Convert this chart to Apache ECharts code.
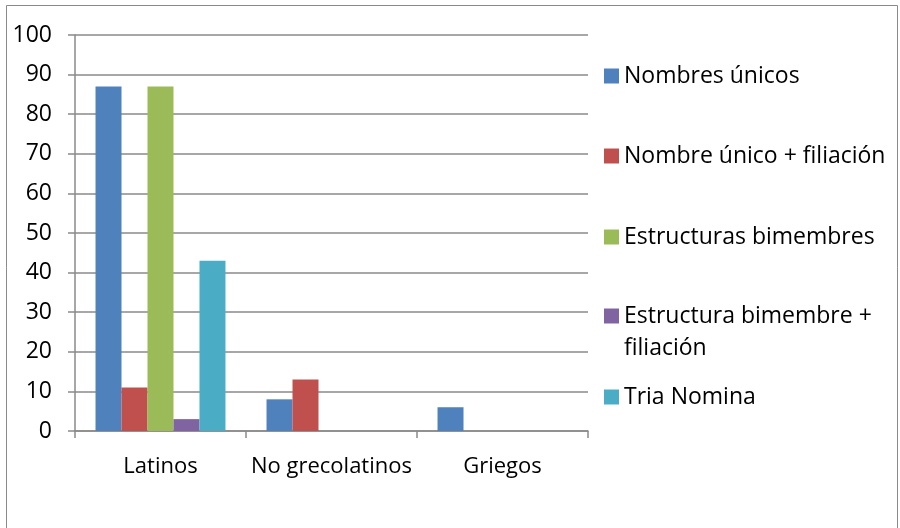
<!DOCTYPE html>
<html>
<head>
<meta charset="utf-8">
<script src="https://cdn.jsdelivr.net/npm/echarts@6/dist/echarts.min.js"></script>
<style>
  html, body { margin: 0; padding: 0; background: #fff; }
  #chart { width: 900px; height: 528px; }
</style>
</head>
<body>
<div id="chart"></div>
<script>
var categories = ['Latinos', 'No grecolatinos', 'Griegos'];
var seriesNames = ['Nombres únicos', 'Nombre único + filiación', 'Estructuras bimembres', 'Estructura bimembre + filiación', 'Tria Nomina'];
var nombresUnicos = [87, 8, 6];
var nombreUnicoFiliacion = [11, 13, 0];
var estructurasBimembres = [87, 0, 0];
var estructuraBimembreFiliacion = [3, 0, 0];
var triaNomina = [43, 0, 0];
var yTicks = [0, 10, 20, 30, 40, 50, 60, 70, 80, 90, 100];

var colors = ['#4F81BD', '#C0504D', '#9BBB59', '#8064A2', '#4BACC6'];
var values = [nombresUnicos, nombreUnicoFiliacion, estructurasBimembres, estructuraBimembreFiliacion, triaNomina];
var font = 'Open Sans';

var myChart = echarts.init(document.getElementById('chart'));

// one legend per entry so each sits where Excel put it
// the long one wraps; a leading empty line keeps its square on the first line
var legendTops = [60, 140, 221, 268, 381];
var legends = seriesNames.map(function (name, i) {
    return {
        orient: 'vertical',
        left: 604,
        top: legendTops[i],
        itemWidth: 15,
        itemHeight: 15,
        itemGap: 0,
        icon: 'rect',
        padding: 0,
        formatter: function (n) {
            return n == 'Estructura bimembre + filiación' ? '\nEstructura bimembre +\nfiliación' : n;
        },
        textStyle: {
            fontFamily: font,
            fontSize: 23,
            color: '#000',
            lineHeight: 32
        },
        data: [name]
    };
});

option = {
    animation: false,
    color: colors,
    legend: legends,
    graphic: [{
        type: 'rect',
        shape: { x: 6.5, y: 5.5, width: 891, height: 540 },
        style: { fill: 'none', stroke: '#8a8a8a', lineWidth: 1 },
        silent: true
    }],
    grid: {
        left: 75,
        right: 312,
        top: 35,
        bottom: 97
    },
    xAxis: {
        type: 'category',
        data: categories,
        axisLine: { lineStyle: { color: '#8a8a8a', width: 1.5 } },
        axisTick: { show: true, length: 7, lineStyle: { color: '#8a8a8a', width: 1.5 } },
        axisLabel: { fontFamily: font, fontSize: 22, color: '#000', margin: 25, interval: 0 }
    },
    yAxis: {
        type: 'value',
        min: yTicks[0],
        max: yTicks[yTicks.length - 1],
        interval: 10,
        axisLine: { show: true, lineStyle: { color: '#8a8a8a', width: 1.5 } },
        axisTick: { show: true, length: 7, lineStyle: { color: '#8a8a8a', width: 1.5 } },
        splitLine: { lineStyle: { color: '#8a8a8a', width: 1.5 } },
        axisLabel: { fontFamily: font, fontSize: 23, color: '#000', margin: 23 }
    },
    series: seriesNames.map(function (name, i) {
        return {
            name: name,
            type: 'bar',
            barGap: '0%',
            barCategoryGap: '24%',
            data: values[i]
        };
    })
};

myChart.setOption(option);
</script>
</body>
</html>
